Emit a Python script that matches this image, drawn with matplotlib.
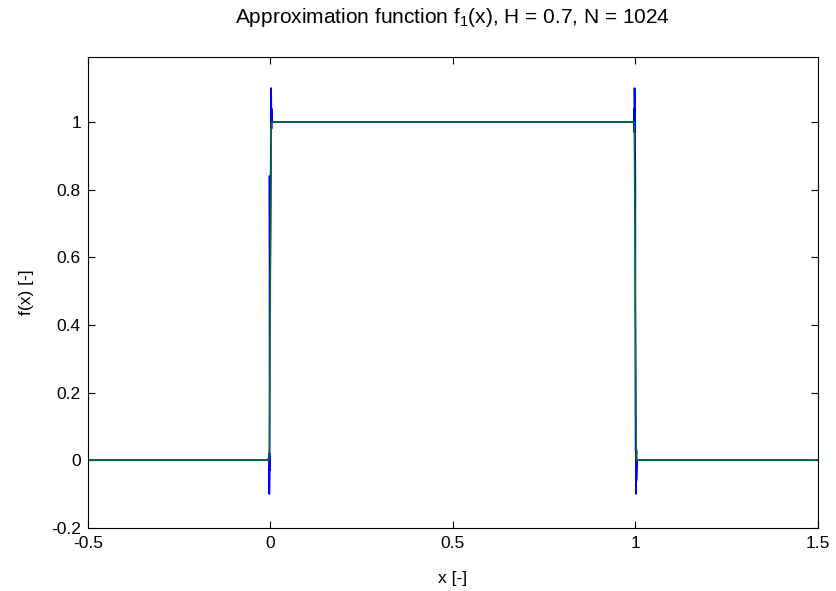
import matplotlib
matplotlib.use("Agg")
import matplotlib.pyplot as plt

# exact step function (green)
exact_x = [-0.5, -0.003, 0.003, 0.997, 1.003, 1.5]
exact_y = [0.0, 0.0, 1.0, 1.0, 0.0, 0.0]

# approximation (blue), with the overshoot near the jumps
approx_x = [-0.5, -0.006, -0.004, -0.004, -0.003, -0.003, -0.002, -0.002, -0.002,
            -0.002, -0.001, 0.001, 0.002, 0.002, 0.003, 0.003, 0.004, 0.006,
            0.994, 0.996, 0.997, 0.997, 0.998, 0.998, 0.999,
            1.0, 1.0, 1.001, 1.002, 1.002, 1.003, 1.003, 1.004, 1.006, 1.5]
approx_y = [0.0, 0.0, 0.01, -0.06, 0.02, -0.1, 0.01, -0.03, 0.5,
            0.84, 0.5, 0.84, 0.97, 1.1, 0.98, 1.04, 1.0, 1.0,
            1.0, 1.0, 0.97, 1.04, 0.98, 1.1, 0.99,
            0.84, 0.5, 0.03, 0.02, -0.1, 0.03, -0.06, 0.0, 0.0, 0.0]

xticks = [-0.5, 0, 0.5, 1, 1.5]
yticks = [-0.2, 0, 0.2, 0.4, 0.6, 0.8, 1]

def main():
    plt.rcParams['font.family'] = ['Liberation Sans', 'DejaVu Sans']
    plt.rcParams['mathtext.default'] = 'regular'
    plt.rcParams['font.size'] = 12.5

    fig = plt.figure(figsize=(8.37, 5.91), dpi=100)
    ax = fig.add_axes([0.105, 0.107, 0.872, 0.797])

    ax.plot(approx_x, approx_y, color='#0000ff', lw=1.3)
    ax.plot(exact_x, exact_y, color='#008000', lw=1.0)

    ax.set_xlim(-0.5, 1.5)
    ax.set_ylim(-0.2, 1.193)
    ax.set_xticks(xticks)
    ax.set_xticklabels([str(t) for t in xticks])
    ax.set_yticks(yticks)
    ax.set_yticklabels([str(t) for t in yticks])
    ax.tick_params(axis='both', direction='in', length=5, width=0.8,
                   top=True, right=True)
    ax.tick_params(axis='x', pad=6)
    ax.tick_params(axis='y', pad=5)
    for s in ax.spines.values():
        s.set_linewidth(0.8)

    ax.set_xlabel('x [-]', labelpad=14)
    ax.set_ylabel('f(x) [-]', labelpad=12)
    ax.set_title('Approximation function f$_1$(x), H = 0.7, N = 1024', pad=24)

    fig.savefig('out.png', dpi=100)

if __name__ == "__main__":
    main()
